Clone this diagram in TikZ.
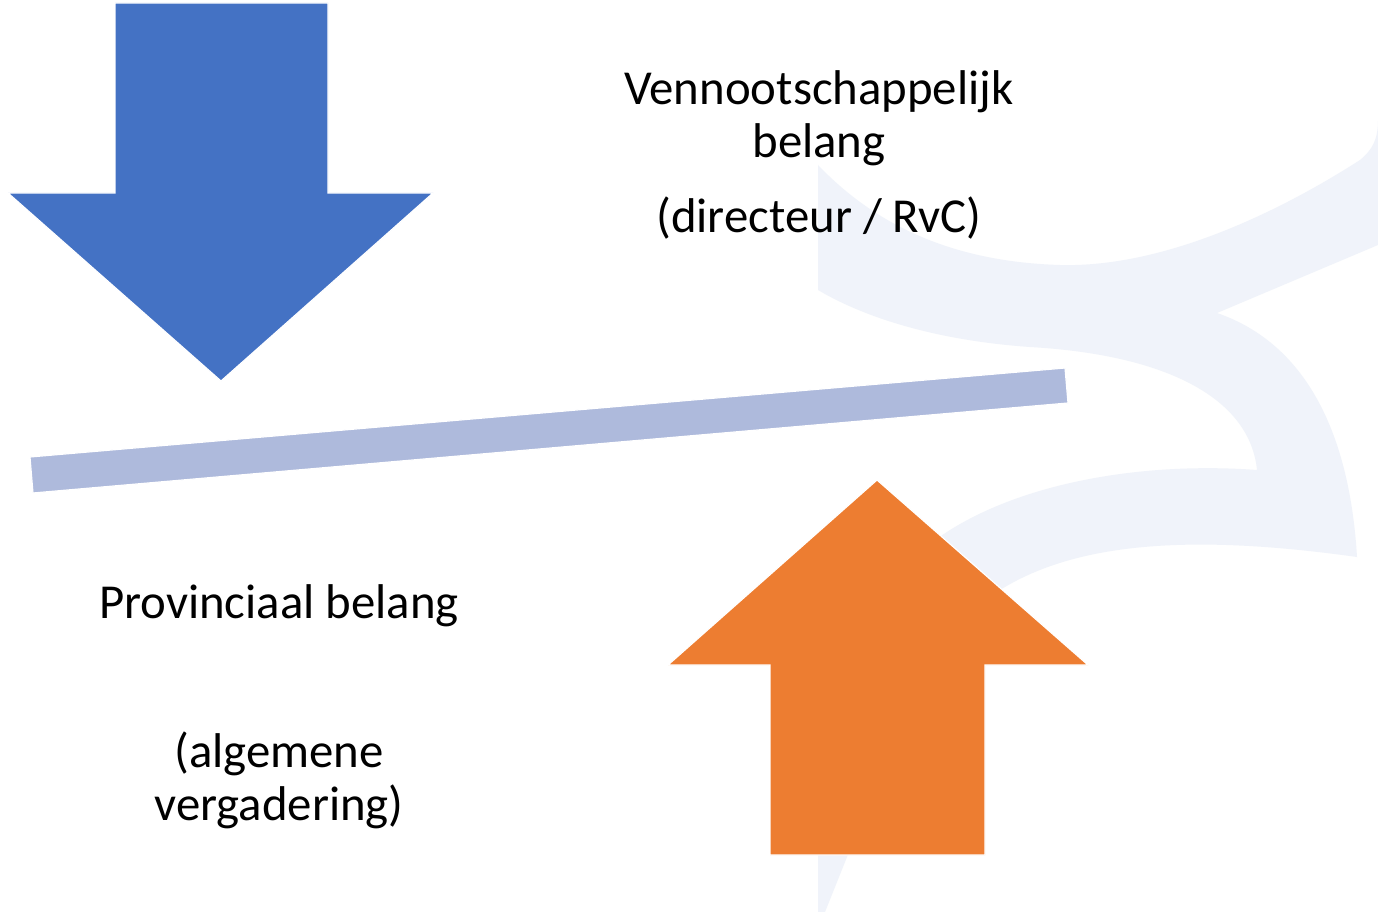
\documentclass[tikz,border=0pt]{standalone}
\usepackage{fontspec}
\setmainfont{Carlito}
\definecolor{downblue}{RGB}{68,114,196}
\definecolor{uporange}{RGB}{237,125,49}
\definecolor{beamblue}{RGB}{174,186,220}
\definecolor{logotint}{RGB}{240,243,250}
\tikzset{
  bigarrow/.style={draw=white, line width=1.2pt, line join=miter},
  labeltext/.style={font=\fontsize{48.8}{53}\selectfont, align=center, inner sep=0pt, anchor=base}
}

\begin{document}
\begin{tikzpicture}[x=1pt,y=-1pt]

  \useasboundingbox[fill=white] (0,0) rectangle (1378,912);

  \fill[logotint] (818,165)
    .. controls (880,230) and (960,262) .. (1060,265)
    .. controls (1170,268) and (1290,205) .. (1360,160)
    .. controls (1372,150) and (1378,140) .. (1378,120)
    -- (1378,245) -- (1217,313)
    .. controls (1310,345) and (1350,440) .. (1357,557)
    .. controls (1200,535) and (1080,540) .. (1000,590)
    .. controls (930,640) and (870,800) .. (825,912)
    -- (818,912) -- (818,660)
    .. controls (840,620) and (880,575) .. (950,530)
    .. controls (1030,480) and (1150,462) .. (1257,470)
    .. controls (1250,400) and (1170,355) .. (1030,347)
    .. controls (930,340) and (860,315) .. (818,290)
    -- cycle;

  \filldraw[bigarrow, fill=downblue] (115,3) -- (328,3) -- (328,193) -- (433,193)
    -- (221,381) -- (8,193) -- (115,193) -- cycle;

  \filldraw[bigarrow, fill=beamblue] (30,457) -- (1065,368) -- (1068,403) -- (33,493) -- cycle;

  \filldraw[bigarrow, fill=uporange] (770,855) -- (985,855) -- (985,665) -- (1088,665)
    -- (877,480) -- (668,665) -- (770,665) -- cycle;

  \node (vennoot) [labeltext] at (819,158) {Vennootschappelijk\\belang};
  \node (directie) [labeltext] at (819,232) {(directeur / RvC)};
  \node (provincie) [labeltext] at (279,618) {Provinciaal belang};
  \node (algemeen) [labeltext] at (279,820) {(algemene\\vergadering)};

\end{tikzpicture}
\end{document}
